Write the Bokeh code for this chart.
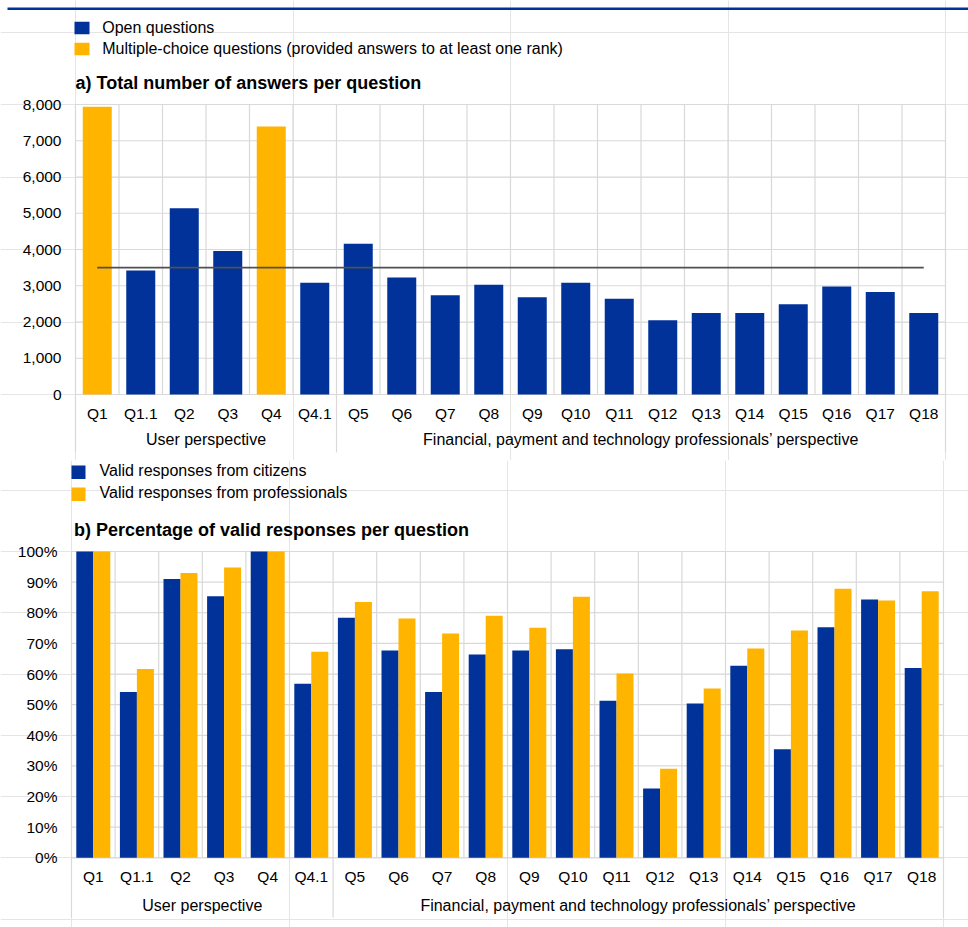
from bokeh.plotting import figure
from bokeh.layouts import column
from bokeh.models import (LinearAxis, FixedTicker, NumeralTickFormatter,
                          PrintfTickFormatter, Range1d, ColumnDataSource)
from bokeh.core.properties import value
from bokeh.embed import file_html
from bokeh.resources import INLINE

# ---------------- data ----------------
categories = ["Q1", "Q1.1", "Q2", "Q3", "Q4", "Q4.1", "Q5", "Q6", "Q7", "Q8",
              "Q9", "Q10", "Q11", "Q12", "Q13", "Q14", "Q15", "Q16", "Q17", "Q18"]
group_names = ["User perspective",
               "Financial, payment and technology professionals\u2019 perspective"]
group_sizes = [6, 14]

# panel a
answers = [7940, 3420, 5140, 3960, 7390, 3080, 4160, 3230, 2740, 3030,
           2680, 3080, 2640, 2050, 2250, 2250, 2490, 2980, 2830, 2250]
answer_kind = ["multiple", "open", "open", "open", "multiple", "open", "open", "open",
               "open", "open", "open", "open", "open", "open", "open", "open",
               "open", "open", "open", "open"]
average_answers = 3500
legend_a = ["Open questions",
            "Multiple-choice questions (provided answers to at least one rank)"]
ticks_a = [0, 1000, 2000, 3000, 4000, 5000, 6000, 7000, 8000]
title_a = "a) Total  number of answers per question"

# panel b
citizens = [100, 54.1, 91.0, 85.4, 100, 56.8, 78.4, 67.7, 54.1, 66.4,
            67.7, 68.1, 51.3, 22.6, 50.4, 62.7, 35.4, 75.3, 84.3, 62.0]
professionals = [100, 61.6, 93.0, 94.8, 100, 67.3, 83.5, 78.1, 73.2, 79.0,
                 75.1, 85.2, 60.2, 29.1, 55.3, 68.3, 74.2, 87.8, 84.0, 87.0]
legend_b = ["Valid responses from citizens", "Valid responses from professionals"]
ticks_b = [0, 10, 20, 30, 40, 50, 60, 70, 80, 90, 100]
title_b = "b) Percentage of valid responses per question"

# ---------------- style ----------------
BLUE = "#003299"
YELLOW = "#FFB400"
GRID = "#d9d9d9"
AVG = "#505050"
TXT = "#000000"
FONT = "Liberation Sans"
W = 968
TEXT_DY = -6.5   # correction for the text glyph's baseline placement
kind_color = {"open": BLUE, "multiple": YELLOW}

N = len(categories)
centers = [i + 0.5 for i in range(N)]
bounds = list(range(N + 1))
group_edges = [0]
for s in group_sizes:
    group_edges.append(group_edges[-1] + s)
group_centers = [(a + b) / 2 for a, b in zip(group_edges[:-1], group_edges[1:])]


class Frame:
    """Maps page pixel positions to data coordinates for a full-canvas frame."""
    def __init__(self, page_left, page_top, width, height,
                 x0_page, x1_page, n, y0_page, ytop_page, ytop_val):
        self.pl, self.pt, self.w, self.h = page_left, page_top, width, height
        self.x0, self.y0 = x0_page, y0_page
        self.kx = (x1_page - x0_page) / n
        self.ky = (y0_page - ytop_page) / ytop_val

    def X(self, px):
        return (px - self.x0) / self.kx

    def Y(self, py):
        return (self.y0 - py) / self.ky

    def TY(self, py):
        return self.Y(py + TEXT_DY)

    def make(self):
        p = figure(width=self.w, height=self.h,
                   x_range=Range1d(self.X(self.pl), self.X(self.pl + self.w)),
                   y_range=Range1d(self.Y(self.pt + self.h), self.Y(self.pt)),
                   x_axis_location=None, y_axis_location=None,
                   min_border=0, outline_line_color=None,
                   toolbar_location=None, output_backend="svg",
                   background_fill_color="white", border_fill_color="white")
        return p


def add_text(p, xs, ys, texts, size, align="left", bold=False):
    p.text(x=xs, y=ys, text=texts, text_font=value(FONT), text_font_size=size,
           text_align=align, text_baseline="alphabetic", text_color=TXT,
           text_font_style="bold" if bold else "normal")


def add_axes(p, ticks, top_val, fmt, xstandoff):
    # grid lines limited to plot area
    p.segment(x0=[0] * len(ticks), x1=[N] * len(ticks), y0=ticks, y1=ticks,
              line_color=GRID, line_width=1.2)
    p.segment(x0=bounds, x1=bounds, y0=[0] * len(bounds), y1=[top_val] * len(bounds),
              line_color=GRID, line_width=1.2)
    yaxis = LinearAxis(fixed_location=0, ticker=FixedTicker(ticks=ticks), formatter=fmt,
                       axis_line_color=None, major_tick_line_color=None,
                       minor_tick_line_color=None, major_tick_out=0, major_tick_in=0,
                       major_label_standoff=14, major_label_text_font=FONT,
                       major_label_text_font_size="15.5px", major_label_text_color=TXT)
    p.add_layout(yaxis, "left")
    xaxis = LinearAxis(fixed_location=0, ticker=FixedTicker(ticks=centers),
                       major_label_overrides={c: q for c, q in zip(centers, categories)},
                       axis_line_color=None, major_tick_line_color=None,
                       minor_tick_line_color=None, major_tick_out=0, major_tick_in=0,
                       major_label_standoff=xstandoff, major_label_text_font=FONT,
                       major_label_text_font_size="15.5px", major_label_text_color=TXT)
    p.add_layout(xaxis, "below")


# ---------------- panel a ----------------
fa = Frame(0, 0, W, 460, 75, 945, N, 394, 104, 8000)
pa = fa.make()

# top rule
pa.quad(left=[fa.X(7)], right=[fa.X(W)], top=[fa.Y(7)], bottom=[fa.Y(9.5)],
        fill_color=BLUE, line_color=None)

# legend a
sq_top = [21.3, 42.3]
pa.quad(left=[fa.X(74)] * 2, right=[fa.X(89)] * 2,
        top=[fa.Y(t) for t in sq_top], bottom=[fa.Y(t + 12.5) for t in sq_top],
        fill_color=[BLUE, YELLOW], line_color=None)
add_text(pa, [fa.X(101.7)] * 2, [fa.TY(33.7), fa.TY(54.4)], legend_a, "16px")
add_text(pa, [fa.X(75)], [fa.TY(89.3)], [title_a], "18px", bold=True)

add_axes(pa, ticks_a, ticks_a[-1], NumeralTickFormatter(format="0,0"), 10)
# group separators
pa.segment(x0=group_edges, x1=group_edges, y0=[fa.Y(452)] * len(group_edges),
           y1=[0] * len(group_edges), line_color=GRID, line_width=1.2)
add_text(pa, group_centers, [fa.TY(445)] * len(group_centers), group_names, "16px",
         align="center")

src_a = ColumnDataSource(dict(x=centers, top=answers,
                              color=[kind_color[k] for k in answer_kind]))
pa.vbar(x="x", top="top", bottom=0, width=29 / fa.kx, source=src_a,
        fill_color="color", line_color=None)
pa.line(x=centers, y=[average_answers] * N, line_color=AVG, line_width=1.6)

# ---------------- panel b ----------------
fb = Frame(0, 460, W, 467, 71, 943, N, 857.3, 551, 100)
pb = fb.make()

sq_top_b = [465, 487]
pb.quad(left=[fb.X(71)] * 2, right=[fb.X(85)] * 2,
        top=[fb.Y(t) for t in sq_top_b], bottom=[fb.Y(t + 13.5) for t in sq_top_b],
        fill_color=[BLUE, YELLOW], line_color=None)
add_text(pb, [fb.X(99)] * 2, [fb.TY(476.5), fb.TY(498.5)], legend_b, "16px")
add_text(pb, [fb.X(73.5)], [fb.TY(535.5)], [title_b], "18px", bold=True)

add_axes(pb, ticks_b, ticks_b[-1], PrintfTickFormatter(format="%d%%"), 10)
pb.segment(x0=group_edges, x1=group_edges, y0=[fb.Y(917)] * len(group_edges),
           y1=[0] * len(group_edges), line_color=GRID, line_width=1.2)
add_text(pb, group_centers, [fb.TY(911.5)] * len(group_centers), group_names, "16px",
         align="center")

bw = 17 / fb.kx
pb.vbar(x=[c - bw / 2 for c in centers], top=citizens, bottom=0, width=bw,
        fill_color=BLUE, line_color=None)
pb.vbar(x=[c + bw / 2 for c in centers], top=professionals, bottom=0, width=bw,
        fill_color=YELLOW, line_color=None)

layout = column(pa, pb, spacing=0)
open("out.html", "w").write(file_html(layout, INLINE))
